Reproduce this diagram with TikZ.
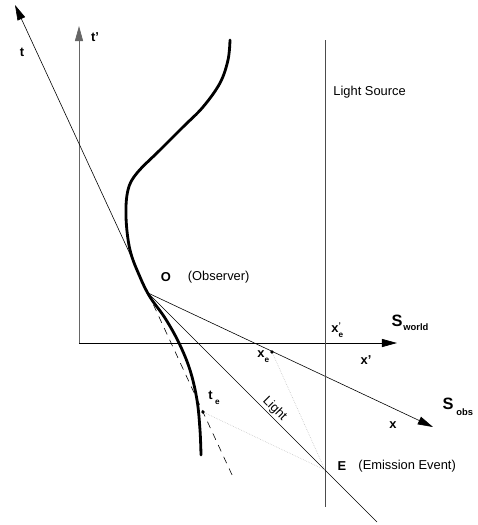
\documentclass[tikz,border=0pt]{standalone}
\usepackage{fontspec}
\setmainfont{Liberation Sans}
\usetikzlibrary{arrows.meta, positioning}

\tikzset{
  axis/.style={-{Triangle[length=13pt,width=7pt]}, line width=0.6pt},
  worldline/.style={line width=2.4pt, line cap=round},
  lbl/.style={font=\fontsize{11}{13}\selectfont\bfseries, inner sep=1pt},
  txt/.style={font=\fontsize{11}{13}\selectfont, inner sep=1pt},
  frame/.style={font=\fontsize{14}{16}\selectfont\bfseries, inner sep=1pt},
  helper/.style={densely dotted, black!25, line width=0.5pt},
  event/.style={circle, fill, inner sep=0pt, minimum size=3pt}
}

\begin{document}
\begin{tikzpicture}[x=0.03cm, y=-0.03cm, node distance=4pt]
        \useasboundingbox (0,0) rectangle (478,525);

        \coordinate (o) at (148,293);
        \coordinate (w) at (79,343);
        \coordinate (e) at (325,470);
        \coordinate (ttip) at (15,5);
        \coordinate (tptip) at (79,26);
        \coordinate (xptip) at (397,343);
        \coordinate (xtip) at (433,427);
        \coordinate (tend) at (233,477);
        \coordinate (lend) at (377,522);
        \coordinate (srctop) at (325,40);
        \coordinate (srcbot) at (325,507);
        \node[event] (xe) at (272,352) {};
        \node[event] (te) at (203,412) {};

        % labels
        \node[lbl] (t) at (22,52) {t};
        \node[lbl] (tp) at (95,37) {t'};
        \node[txt, anchor=west] (src) at (332,92) {Light Source};
        \node[lbl] (olbl) at (166,277) {O};
        \node[txt, right=12pt of olbl] (obs) {(Observer)};
        \node[frame] (sw) at (397,321) {S};
        \node[lbl, font=\fontsize{8}{9}\selectfont\bfseries, anchor=west] (swsub) at (402,327) {world};
        \node[lbl, anchor=west] (xpe) at (330,330) {x\rlap{\raisebox{0.6ex}{\scriptsize\bfseries '}}\raisebox{-0.7ex}{\scriptsize e}};
        \node[lbl] (xplbl) at (366,360) {x'};
        \node[lbl, anchor=west] (xelbl) at (256,357) {x\raisebox{-0.7ex}{\scriptsize e}};
        \node[frame] (so) at (448,404) {S};
        \node[lbl, font=\fontsize{8}{9}\selectfont\bfseries, anchor=west] (sosub) at (455,412) {obs};
        \node[lbl] (xlbl) at (393,425) {x};
        \node[lbl, anchor=west] (telbl) at (207,398) {t\hspace{2pt}\raisebox{-0.7ex}{\scriptsize e}};
        \node[lbl] (elbl) at (342,466) {E};
        \node[txt, right=8pt of elbl] (emis) {(Emission Event)};

        % axes and lines
        \draw[axis, black!60] (w) -- (tptip);
        \draw[axis] (w) -- (xptip);
        \draw[axis, line width=0.5pt] (o) -- (ttip);
        \draw[axis, line width=0.5pt] (o) -- (xtip);
        \draw[dashed, dash pattern=on 6pt off 5pt, line width=0.5pt] (o) -- (tend);
        \draw[black!70, line width=0.8pt] (srctop) -- (srcbot);
        \draw[line width=0.5pt] (o) -- node[pos=0.53, sloped, above, txt] (light) {Light} (lend);

        \path[helper]
        (xe) edge (e)
        (te) edge (e);

        \draw[worldline] plot[smooth, tension=0.6] coordinates {
          (230,40) (228,60) (220,83) (203,107) (183,127) (160,150) (137,173)
          (128,190) (126,217) (130,250) (140,277) (150,297) (165,318)
          (179,343) (190,370) (197,400) (200,430) (201,455)};

    \end{tikzpicture}
\end{document}
